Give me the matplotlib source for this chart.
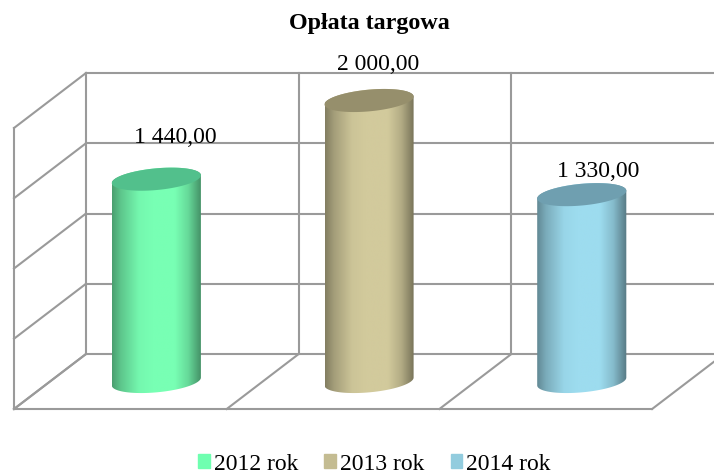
import numpy as np
import matplotlib
matplotlib.use('Agg')
import matplotlib.pyplot as plt
from matplotlib.patches import Patch, Polygon

plt.rcParams['font.family'] = ['Liberation Serif', 'DejaVu Serif']

title = 'Opłata targowa'
categories = ['2012 rok', '2013 rok', '2014 rok']
values = [1440, 2000, 1330]
value_labels = ['1 440,00', '2 000,00', '1 330,00']
gridvalues = [0, 500, 1000, 1500, 2000]

side_colors = ['#78FFB4', '#D2CA9C', '#9DDCEF']
top_colors = ['#52C08C', '#968F6C', '#6F9FB0']
legend_colors = ['#6FFFB0', '#C4BC92', '#92CCDE']
grid_color = '#9A9A9A'

# pixels of the fake 3d box
x0, cat_w = 14, 212.7
y0, y_scale = 409, 281 / 2000
dx, dy = 72, 55


def project(cat, val, depth):
    # category pos, value, depth (0 front, 1 back) -> picture pixels
    cat, val, depth = np.asarray(cat), np.asarray(val), np.asarray(depth)
    return x0 + cat_w * cat + dx * depth, y0 - y_scale * val - dy * depth


def line(ax, a, b):
    xa, ya = project(*a)
    xb, yb = project(*b)
    ax.plot([xa, xb], [ya, yb], color=grid_color, lw=1.5, zorder=1,
            solid_capstyle='projecting')


def ring(cat, val, t):
    # circle on the box floor, so it comes out as a slanted ellipse
    cx = cat + 0.5 + 0.197 * np.cos(t)
    return project(cx, val, 0.5 + 0.21 * np.sin(t))


def cylinder(ax, cat, val, side, top):
    t = np.linspace(0, 2 * np.pi, 200)
    x_top, y_top = ring(cat, val, t)
    x_bot, y_bot = ring(cat, 0, t)
    i_r, i_l = np.argmax(x_top), np.argmin(x_top)

    # outline of the body: front half of base, back half of top
    order = np.roll(np.arange(200), -i_l)
    n = (i_r - i_l) % 200
    bx = x_bot[order[:n + 1]]
    by = y_bot[order[:n + 1]]
    back = np.roll(np.arange(200), -i_r)
    m = (i_l - i_r) % 200
    tx = x_top[back[:m + 1]]
    ty = y_top[back[:m + 1]]
    outline = Polygon(np.column_stack([np.r_[bx, tx], np.r_[by, ty]]),
                      transform=ax.transData, fc='none', ec='none')
    ax.add_patch(outline)

    # horizontal shading
    stops = [0, 0.1, 0.3, 0.45, 0.7, 0.85, 1]
    shade = [0.62, 0.78, 0.97, 1, 1, 0.85, 0.55]
    base = np.array(matplotlib.colors.to_rgb(side))
    pos = np.linspace(0, 1, 256)
    grad = np.interp(pos, stops, shade)[None, :, None] * base
    im = ax.imshow(grad, extent=(x_top.min(), x_top.max(), y_bot.max() + 2, y_top.min() - 2),
                   aspect='auto', interpolation='bilinear', zorder=2)
    im.set_clip_path(outline)
    ax.add_patch(Polygon(np.column_stack([x_top, y_top]), fc=top, ec='none', zorder=3))


fig = plt.figure(figsize=(7.14, 4.73), dpi=100)
ax = fig.add_axes([0, 0, 1, 1])

n = len(categories)
for v in gridvalues:
    line(ax, (0, v, 1), (n, v, 1))
    line(ax, (0, v, 0), (0, v, 1))
line(ax, (0, 0, 0), (n, 0, 0))
line(ax, (0, 0, 0), (0, max(gridvalues), 0))
for c in range(n + 1):
    line(ax, (c, 0, 0), (c, 0, 1))
    if c < n:
        line(ax, (c, 0, 1), (c, max(gridvalues), 1))

for i, v in enumerate(values):
    cylinder(ax, i, v, side_colors[i], top_colors[i])

# data labels sit at uneven distances above the cylinders in the original
label_shift = [(19, -42), (9, -36), (16, -23)]
for i, v in enumerate(values):
    xl, yl = project(i + 0.5, v, 0.5)
    ax.text(xl + label_shift[i][0], yl + label_shift[i][1], value_labels[i],
            fontsize=17, ha='center', va='center', color='black', zorder=5)

ax.set_xlim(0, 714)
ax.set_ylim(473, 0)
ax.axis('off')

fig.text(369.5 / 714, 1 - 24 / 473, title, fontsize=17.3, fontweight='bold',
         ha='center', va='center')

handles = [Patch(color=c, label=l) for c, l in zip(legend_colors, categories)]
fig.legend(handles=handles, ncol=3, frameon=False, fontsize=17,
           loc='center', bbox_to_anchor=(374.5 / 714, 1 - 464 / 473),
           handlelength=0.5, handleheight=0.5, handletextpad=0.17,
           columnspacing=1.1, borderpad=0, borderaxespad=0)

fig.savefig('out.png', dpi=100)
